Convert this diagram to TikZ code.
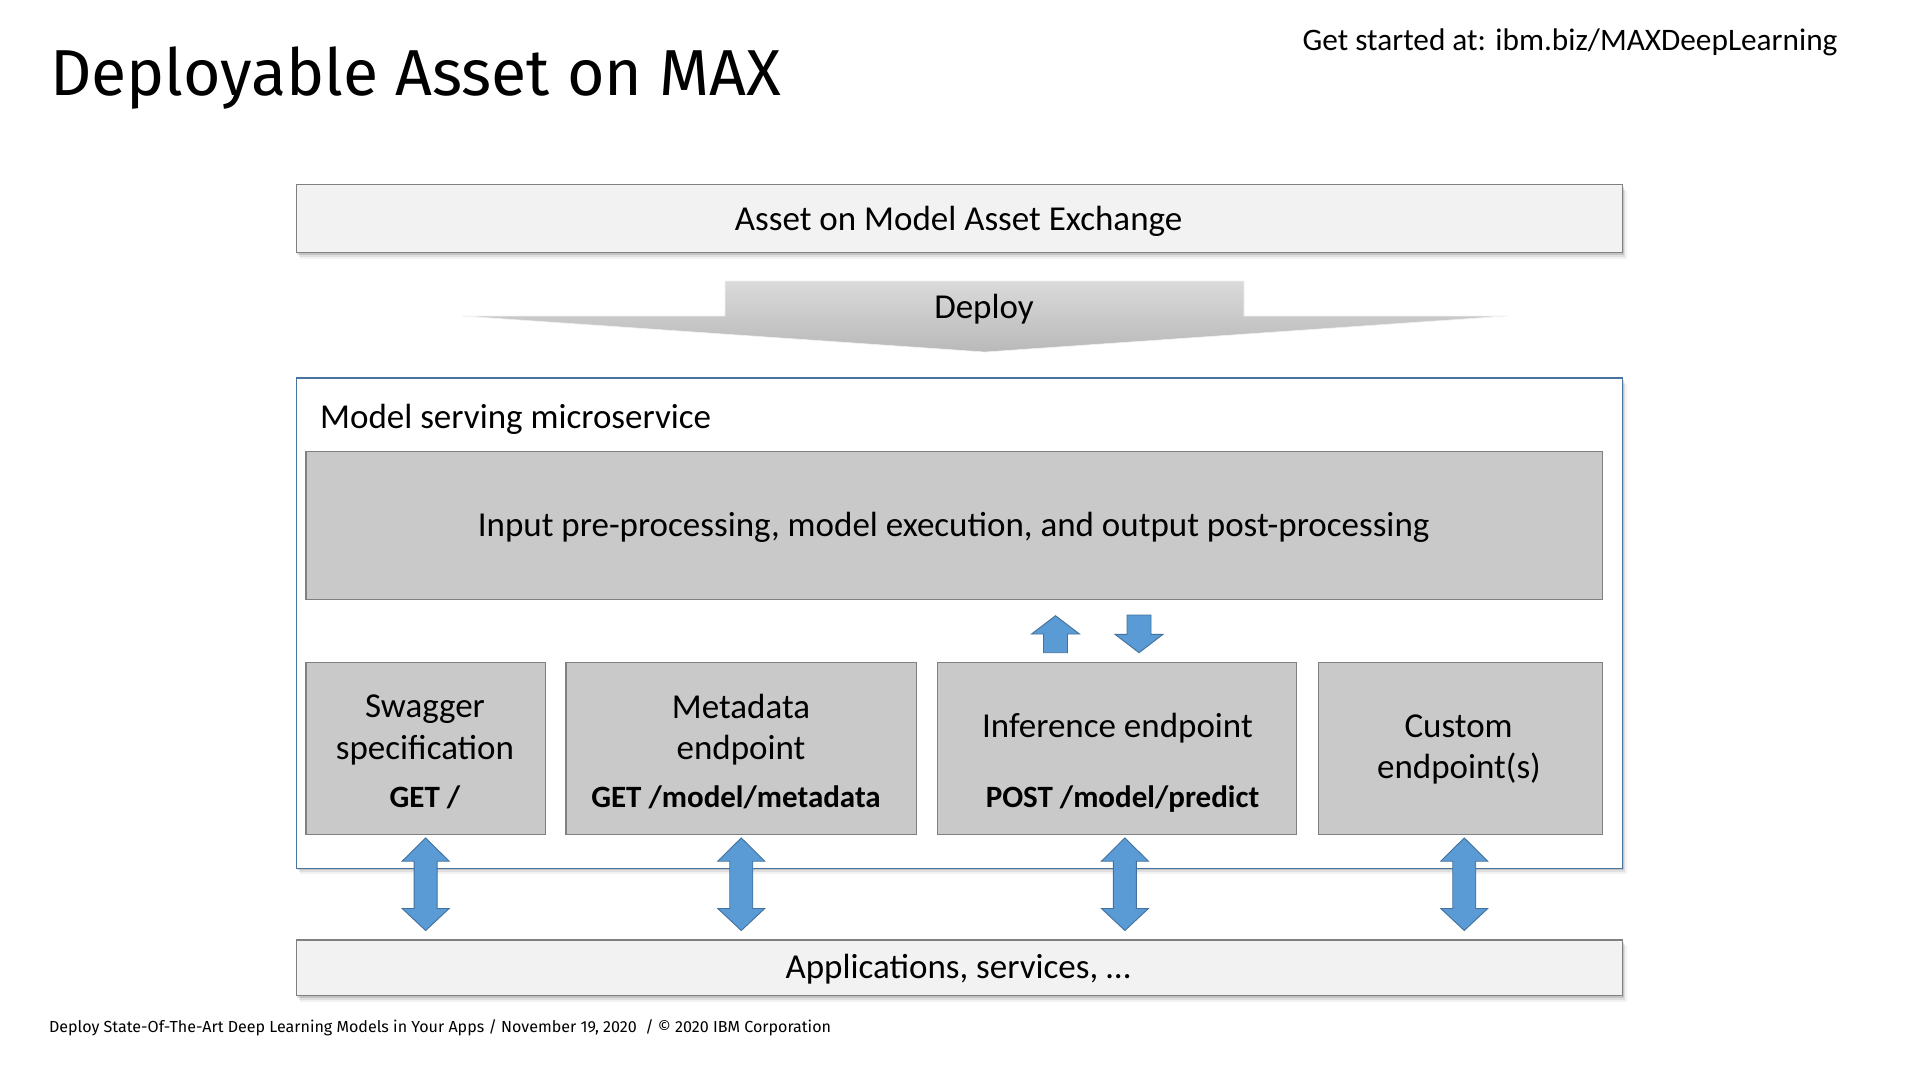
\documentclass[tikz,border=0pt]{standalone}
\usepackage{fontspec}
\usepackage{graphicx}
\setmainfont{Carlito}
\newfontfamily\titlefont{Fira Sans}
\usetikzlibrary{calc,shadows}
\definecolor{lightbox}{HTML}{F2F2F2}
\definecolor{boxline}{HTML}{808080}
\definecolor{graybox}{HTML}{C9C9C9}
\definecolor{msline}{HTML}{4A74A0}
\definecolor{arrowfill}{HTML}{5B9BD5}
\definecolor{arrowline}{HTML}{41719C}
\definecolor{deploytop}{HTML}{DADADA}
\definecolor{deploybot}{HTML}{B9B9B9}
\tikzset{
  softshadow/.style={
    drop shadow={shadow xshift=4pt,shadow yshift=-6pt,opacity=0.05,fill=black},
    drop shadow={shadow xshift=2.5pt,shadow yshift=-4pt,opacity=0.08,fill=black},
    drop shadow={shadow xshift=1pt,shadow yshift=-2pt,opacity=0.12,fill=black}},
  lbox/.style={draw=boxline, fill=lightbox, line width=1.3pt, inner sep=0pt, anchor=north west},
  gbox/.style={draw=boxline, fill=graybox, line width=1.2pt, inner sep=0pt, anchor=north west},
  msbox/.style={draw=msline, fill=white, line width=1.4pt, inner sep=0pt, anchor=north west},
  blockarrow/.style={fill=arrowfill, draw=arrowline, line width=0.9pt, line join=miter},
  txt/.style={font=\fontsize{35}{40.6}\selectfont, inner sep=0pt, anchor=base},
  btxt/.style={txt, font=\fontsize{31}{40.6}\selectfont\bfseries},
}
\newcommand{\myDblArrow}[1]{%
  \draw[blockarrow] (#1) -- ++(23.5,23.3) -- ++(-12,0) -- ++(0,47.3) -- ++(12,0)
    -- ++(-23.5,22) -- ++(-23.5,-22) -- ++(12,0) -- ++(0,-47.3) -- ++(-12,0) -- cycle;}
\begin{document}
\begin{tikzpicture}[x=1pt,y=-1pt]
\fill[white] (0,0) rectangle (1920,1080);
\useasboundingbox (0,0) rectangle (1920,1080);

% title and header
\node[inner sep=0pt, anchor=base west, font=\titlefont\fontsize{65}{70}\selectfont] (title) at (50,95)
  {\resizebox{731pt}{\height}{Deployable Asset on MAX}};
\node[inner sep=0pt, anchor=base west, font=\fontsize{31.3}{36}\selectfont] (getstarted) at (1302.4,50)
  {Get started at: ibm.biz/MAXDeepLearning};

% asset box
\node[lbox, softshadow, minimum width=1326.4pt, minimum height=68pt] (asset) at (295.6,184) {};
\node[txt] (assettext) at (958.6,230) {Asset on Model Asset Exchange};

% deploy arrow
\coordinate (dA) at (725,281);
\coordinate (dB) at (1244,281);
\coordinate (dC) at (1244,316);
\coordinate (dD) at (1507,316);
\coordinate (dE) at (985,352);
\coordinate (dF) at (462,316);
\coordinate (dG) at (725,316);
\shade[top color=deploytop, bottom color=deploybot] (dA) -- (dB) -- (dC) -- (dD) -- (dE) -- (dF) -- (dG) -- cycle;
\draw[white!80!deploybot, line width=0.6pt] (dA) -- (dB) -- (dC) -- (dD) -- (dE) -- (dF) -- (dG) -- cycle;
\node[txt] (deploytext) at (984,318) {Deploy};

% microservice container
\node[msbox, softshadow, minimum width=1326.4pt, minimum height=490.4pt] (ms) at (295.6,377.3) {};
\node[txt, anchor=base west] (mstext) at (320,428) {Model serving microservice};

% processing box
\node[gbox, minimum width=1296.1pt, minimum height=148pt] (proc) at (305.4,451) {};
\node[txt] (proctext) at (953.7,536.7) {Input pre-processing, model execution, and output post-processing};

% endpoint boxes
\node[gbox, minimum width=239.3pt, minimum height=172.3pt] (swag) at (305.4,661.7) {};
\node[gbox, minimum width=350.7pt, minimum height=172.3pt] (meta) at (565.3,661.7) {};
\node[gbox, minimum width=359pt, minimum height=172.3pt] (infer) at (937,661.7) {};
\node[gbox, minimum width=283.9pt, minimum height=172.3pt] (custom) at (1317.6,661.7) {};

\node[txt] (swag1) at (425,717.7) {Swagger};
\node[txt] (swag2) at (425,759) {specification};
\node[btxt] (swag3) at (425,807.7) {GET /};
\node[txt] (meta1) at (741,718) {Metadata};
\node[txt] (meta2) at (741,759.5) {endpoint};
\node[btxt] (meta3) at (736,807.7) {GET /model/metadata};
\node[txt] (infer1) at (1117.4,737.7) {Inference endpoint};
\node[btxt] (infer2) at (1122.5,807.7) {POST /model/predict};
\node[txt] (custom1) at (1458.6,737.7) {Custom};
\node[txt] (custom2) at (1459,778.3) {endpoint(s)};

% small arrows between processing and inference
\coordinate (upTip) at (1055.5,615.7);
\draw[blockarrow] (upTip) -- ++(24,18.3) -- ++(-12,0) -- ++(0,18.7) -- ++(-24,0) -- ++(0,-18.7) -- ++(-12,0) -- cycle;
\coordinate (downTip) at (1139,652.7);
\draw[blockarrow] (downTip) -- ++(24,-18.4) -- ++(-12,0) -- ++(0,-19.3) -- ++(-24,0) -- ++(0,19.3) -- ++(-12,0) -- cycle;

% applications box
\node[lbox, softshadow, minimum width=1326.4pt, minimum height=55.7pt] (apps) at (295.6,939.3) {};
\node[txt] (appstext) at (958,978.3) {Applications, services, …};

% double arrows
\coordinate (a1) at ($(swag.south)+(0,2.7)$);
\coordinate (a2) at ($(meta.south)+(0,2.7)$);
\coordinate (a3) at ($(infer.south)+(7.8,2.7)$);
\coordinate (a4) at ($(custom.south)+(4.1,2.7)$);
\myDblArrow{a1}
\myDblArrow{a2}
\myDblArrow{a3}
\myDblArrow{a4}

% footer
\node[inner sep=0pt, anchor=base west, font=\titlefont\fontsize{16}{19}\selectfont] (footer) at (48.8,1032.3)
  {\resizebox{782pt}{\height}{Deploy State-Of-The-Art Deep Learning Models in Your Apps / November 19, 2020\ \ / © 2020 IBM Corporation}};
\end{tikzpicture}
\end{document}
